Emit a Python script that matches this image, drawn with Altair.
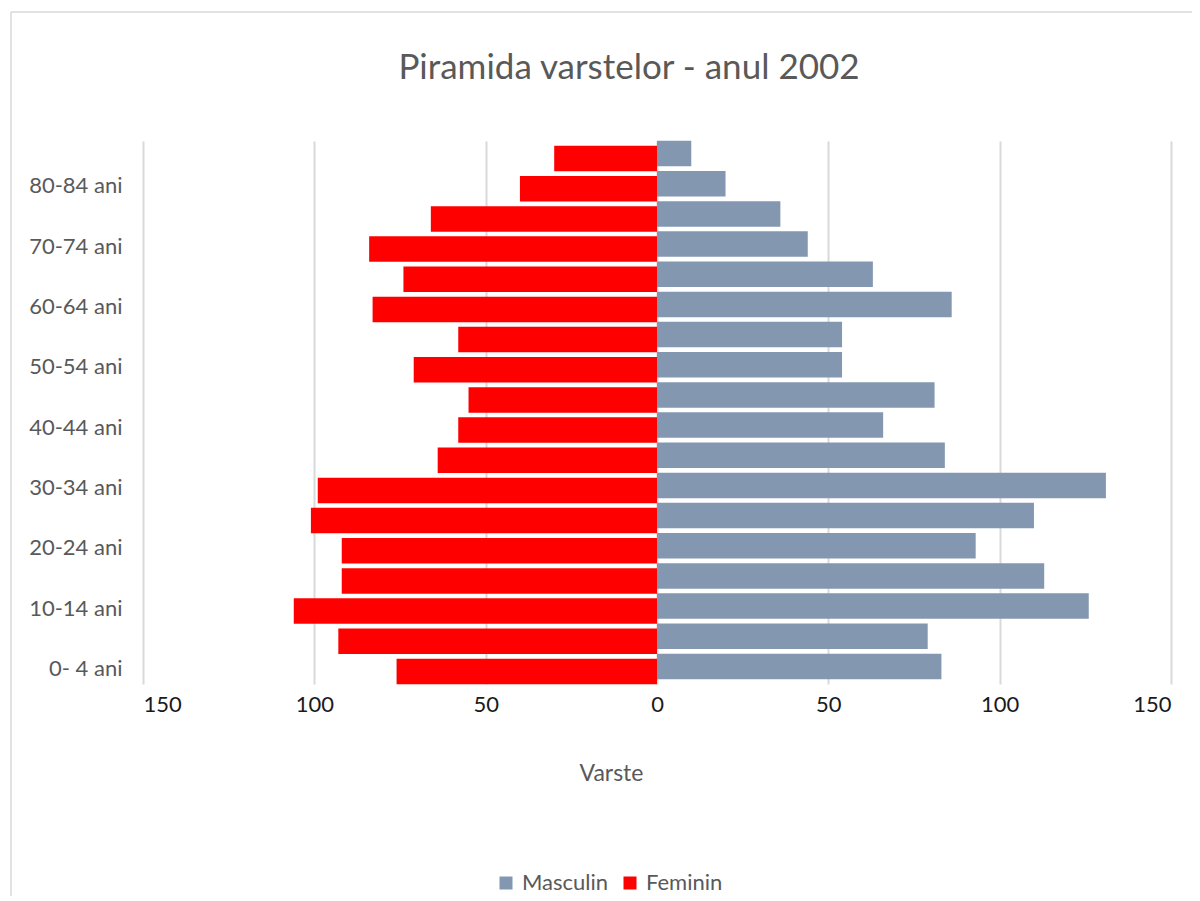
import altair as alt
import pandas as pd

# Age groups, bottom to top
grupe = ["0- 4 ani", "5- 9 ani", "10-14 ani", "15-19 ani", "20-24 ani", "25-29 ani",
         "30-34 ani", "35-39 ani", "40-44 ani", "45-49 ani", "50-54 ani", "55-59 ani",
         "60-64 ani", "65-69 ani", "70-74 ani", "75-79 ani", "80-84 ani", "85+ ani"]
masculin = [83, 79, 126, 113, 93, 110, 131, 84, 66, 81, 54, 54, 86, 63, 44, 36, 20, 10]
feminin = [76, 93, 106, 92, 92, 101, 99, 64, 58, 55, 71, 58, 83, 74, 84, 66, 40, 30]
serii = ["Masculin", "Feminin"]
culori = ["#8497B0", "#FF0000"]
ticks_x = [-150, -100, -50, 0, 50, 100, 150]
etichete_y = ["0- 4 ani", "10-14 ani", "20-24 ani", "30-34 ani", "40-44 ani",
              "50-54 ani", "60-64 ani", "70-74 ani", "80-84 ani"]
titlu = "Piramida varstelor - anul 2002"

rows = []
for g, m, f in zip(grupe, masculin, feminin):
    rows.append({"grupa": g, "sex": "Masculin", "valoare": m})
    rows.append({"grupa": g, "sex": "Feminin", "valoare": f})
df = pd.DataFrame(rows)

FONT = "Lato"
GREY = "#595959"

y_enc = alt.Y(
    "grupa:N",
    sort=list(reversed(grupe)),
    scale=alt.Scale(paddingInner=0, paddingOuter=0),
    axis=alt.Axis(values=etichete_y, title=None, ticks=False, tickSize=0, domain=False,
                  grid=False, labelFont=FONT, labelFontSize=22, labelColor=GREY,
                  labelPadding=21),
)
x_enc = alt.X(
    "x:Q",
    scale=alt.Scale(domain=[-150, 150], nice=False, zero=False),
    axis=alt.Axis(values=ticks_x, labelExpr="abs(datum.value)", title="Varste",
                  grid=True, gridColor="#d9d9d9", gridWidth=2, domain=False,
                  ticks=False, tickSize=0, labelFont=FONT, labelFontSize=22,
                  labelColor="#1a1a1a", labelPadding=10, titleFont=FONT,
                  titleFontSize=23, titleFontWeight="normal", titleColor=GREY,
                  titleX=468, titleY=96, titleAlign="center",
                  titleBaseline="alphabetic"),
)
color_enc = alt.Color(
    "sex:N",
    scale=alt.Scale(domain=serii, range=culori),
    legend=alt.Legend(orient="none", legendX=352, legendY=731, direction="horizontal",
                      title=None, symbolType="square", symbolSize=169,
                      symbolStrokeWidth=0, labelFont=FONT, labelFontSize=22,
                      labelColor=GREY, labelOffset=5, columnPadding=10, padding=0,
                      labelLimit=300),
)

base = alt.Chart(df).transform_calculate(
    x="datum.sex == 'Feminin' ? -datum.valoare : datum.valoare"
)
bars_m = base.transform_filter("datum.sex == 'Masculin'").mark_bar(
    height=25.5, yOffset=-2.5
).encode(x=x_enc, y=y_enc, color=color_enc)
bars_f = base.transform_filter("datum.sex == 'Feminin'").mark_bar(
    height=25.5, yOffset=2.5
).encode(x=x_enc, y=y_enc, color=color_enc)

frame_df = pd.DataFrame({"k": [0]})
frame_top = alt.Chart(frame_df).mark_rule(color="#d9d9d9", strokeWidth=1.5).encode(
    x=alt.value(-132), x2=alt.value(1200), y=alt.value(-129)
)
frame_left = alt.Chart(frame_df).mark_rule(color="#d9d9d9", strokeWidth=1.5).encode(
    x=alt.value(-132), y=alt.value(-129), y2=alt.value(900)
)
title_mark = alt.Chart(frame_df).mark_text(
    font=FONT, fontSize=35, color=GREY, align="center", baseline="alphabetic"
).encode(x=alt.value(486), y=alt.value(-62), text=alt.value(titlu))

chart = alt.layer(frame_top, frame_left, title_mark, bars_f, bars_m).properties(
    width=1028,
    height=543,
    padding={"left": 135, "top": 133, "right": 21, "bottom": 212},
    autosize=alt.AutoSizeParams(type="none"),
).configure(background="white").configure_view(stroke=None)

chart.save("out.html", embed_options={"renderer": "svg", "actions": False})
